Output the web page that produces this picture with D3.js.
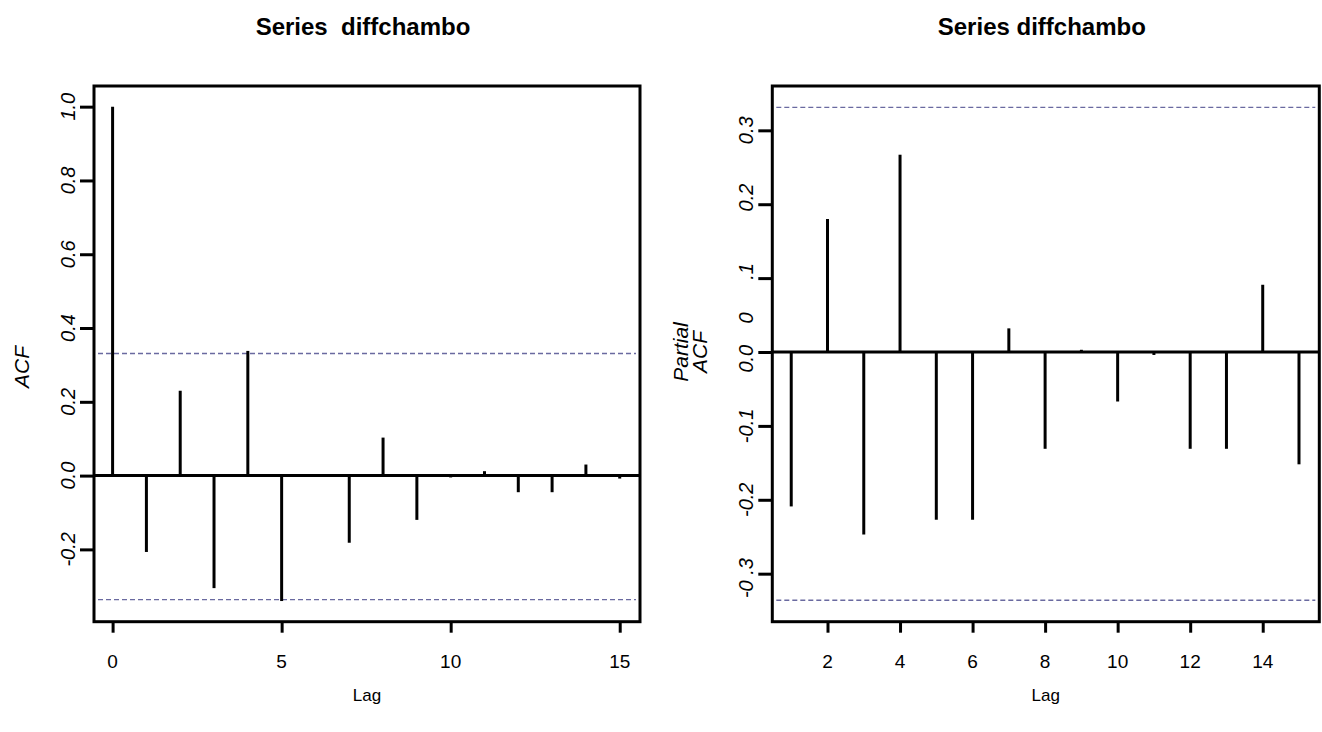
<!DOCTYPE html>
<html>
<head>
<meta charset="utf-8">
<script src="https://cdn.jsdelivr.net/npm/d3@7"></script>
<style>
  body { margin: 0; background: #fff; }
  svg { display: block; font-family: 'Liberation Sans', Arial, sans-serif; }
  .title { font-size: 24px; font-weight: bold; }
  .ylab { font-size: 21px; font-style: italic; }
  .tick-label { font-size: 20px; font-style: italic; }
  .xtick-label { font-size: 19px; }
  .xlab { font-size: 17px; font-family: 'Liberation Sans Narrow', 'Liberation Sans', Arial, sans-serif; font-stretch: condensed; }
</style>
</head>
<body>
<script>
// ACF panel
const acfLags = [0, 1, 2, 3, 4, 5, 6, 7, 8, 9, 10, 11, 12, 13, 14, 15];
const acfValues = [1.0, -0.207, 0.230, -0.305, 0.338, -0.340, 0.003, -0.182, 0.103, -0.120, -0.005, 0.012, -0.045, -0.045, 0.030, -0.008];
const acfYTicks = [1.0, 0.8, 0.6, 0.4, 0.2, 0.0, -0.2];
const acfYLabels = ['1.0', '0.8', '0.6', '0.4', '0.2', '0.0', '-0.2'];
const acfXTicks = [0, 5, 10, 15];

// PACF panel
const pacfLags = [1, 2, 3, 4, 5, 6, 7, 8, 9, 10, 11, 12, 13, 14, 15];
const pacfValues = [-0.209, 0.180, -0.247, 0.267, -0.227, -0.227, 0.032, -0.131, 0.003, -0.067, -0.004, -0.131, -0.131, 0.091, -0.152];
const pacfYTicks = [0.3, 0.2, 0.1, 0.0, -0.1, -0.2, -0.3];
// label positions as they sit in the picture (some drift off their ticks)
const pacfLabelPos = [0.3, 0.209, 0.109, 0.046, -0.009, -0.1, -0.2, -0.306];
const pacfLabelText = ['0.3', '0.2', '.1', '0', '0.0', '-0.1', '-0.2', '-0 .3'];
const pacfXTicks = [2, 4, 6, 8, 10, 12, 14];

// 95% bounds
const ciBounds = [-0.336, 0.331];

const width = 1322, height = 732;

const svg = d3.select('body').append('svg')
  .attr('width', width)
  .attr('height', height);

svg.append('rect').attr('width', width).attr('height', height).attr('fill', '#fff');

function drawPanel(p) {
  const x = d3.scaleLinear().domain(p.xDomain).range([p.left, p.right]);
  const y = d3.scaleLinear().domain(p.yDomain).range([p.bottom, p.top]);
  const g = svg.append('g');

  // confidence bounds
  g.selectAll('line.ci')
    .data(ciBounds)
    .enter().append('line')
    .attr('class', 'ci')
    .attr('x1', p.left + 4).attr('x2', p.right - 4)
    .attr('y1', d => y(d)).attr('y2', d => y(d))
    .attr('stroke', '#6a6aa0')
    .attr('stroke-width', 1.3)
    .attr('stroke-dasharray', '5,3');

  // zero line
  g.append('line')
    .attr('x1', p.left).attr('x2', p.right)
    .attr('y1', y(0)).attr('y2', y(0))
    .attr('stroke', '#000').attr('stroke-width', 3);

  // spikes
  g.selectAll('line.spike')
    .data(p.values)
    .enter().append('line')
    .attr('class', 'spike')
    .attr('x1', (d, i) => x(p.lags[i])).attr('x2', (d, i) => x(p.lags[i]))
    .attr('y1', y(0)).attr('y2', d => y(d))
    .attr('stroke', '#000').attr('stroke-width', 3);

  // box
  g.append('rect')
    .attr('x', p.left).attr('y', p.top)
    .attr('width', p.right - p.left).attr('height', p.bottom - p.top)
    .attr('fill', 'none').attr('stroke', '#000').attr('stroke-width', 3);

  // y ticks
  const yAxis = g.append('g')
    .attr('transform', `translate(${p.left},0)`)
    .call(d3.axisLeft(y).tickValues(p.yTicks).tickSize(14).tickFormat(''));
  yAxis.select('.domain').remove();
  yAxis.selectAll('line').attr('stroke-width', 3);

  g.selectAll('text.ytl')
    .data(p.yLabelPos)
    .enter().append('text')
    .attr('class', 'tick-label')
    .attr('transform', d => `translate(${p.left - 19},${y(d)}) rotate(-90)`)
    .attr('text-anchor', 'middle')
    .text((d, i) => p.yLabelText[i]);

  // x ticks
  const xAxis = g.append('g')
    .attr('transform', `translate(0,${p.bottom})`)
    .call(d3.axisBottom(x).tickValues(p.xTicks).tickSize(11).tickFormat(''));
  xAxis.select('.domain').remove();
  xAxis.selectAll('line').attr('stroke-width', 3);

  g.selectAll('text.xtl')
    .data(p.xTicks)
    .enter().append('text')
    .attr('class', 'xtick-label')
    .attr('x', d => x(d))
    .attr('y', p.bottom + 46)
    .attr('text-anchor', 'middle')
    .text(d => d);

  const cx = (p.left + p.right) / 2;
  g.append('text')
    .attr('class', 'title')
    .attr('x', cx - 4).attr('y', 35)
    .attr('text-anchor', 'middle')
    .attr('xml:space', 'preserve')
    .style('white-space', 'pre')
    .text(p.title);

  g.append('text')
    .attr('class', 'xlab')
    .attr('x', cx).attr('y', 701)
    .attr('text-anchor', 'middle')
    .text('Lag');

  p.yTitle.forEach((t, i) => {
    g.append('text')
      .attr('class', 'ylab')
      .attr('transform', `translate(${p.yTitleX + i * 19},${p.yTitleY}) rotate(-90)`)
      .attr('text-anchor', 'middle')
      .text(t);
  });
}

drawPanel({
  left: 94, right: 640, top: 86, bottom: 621.7,
  xDomain: [-0.55, 15.6], yDomain: [-0.396, 1.056],
  lags: acfLags, values: acfValues,
  yTicks: acfYTicks, yLabelPos: acfYTicks, yLabelText: acfYLabels,
  xTicks: acfXTicks,
  title: 'Series  diffchambo',
  yTitle: ['ACF'], yTitleX: 29, yTitleY: 367
});

drawPanel({
  left: 772.3, right: 1319.3, top: 86, bottom: 621.7,
  xDomain: [0.478, 15.56], yDomain: [-0.365, 0.36],
  lags: pacfLags, values: pacfValues,
  yTicks: pacfYTicks, yLabelPos: pacfLabelPos, yLabelText: pacfLabelText,
  xTicks: pacfXTicks,
  title: 'Series diffchambo',
  yTitle: ['Partial', 'ACF'], yTitleX: 688, yTitleY: 352
});
</script>
</body>
</html>
